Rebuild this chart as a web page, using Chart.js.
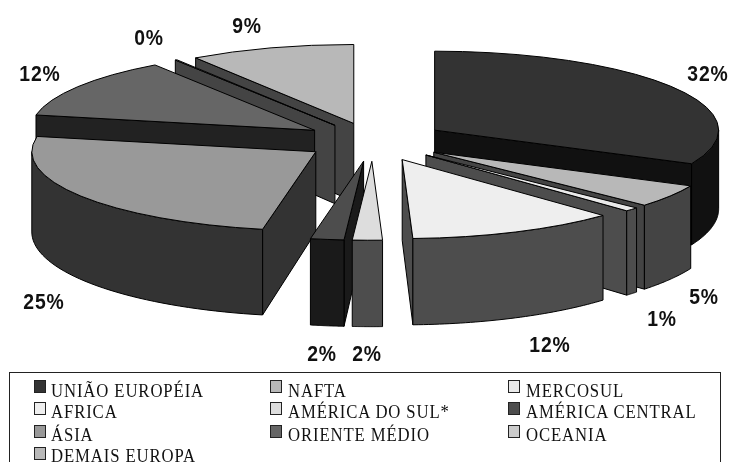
<!DOCTYPE html>
<html>
<head>
<meta charset="utf-8">
<script src="https://cdn.jsdelivr.net/npm/chart.js@4/dist/chart.umd.min.js"></script>
<style>
  html, body { margin: 0; padding: 0; background: #fff; overflow: hidden; }
  #wrap { position: relative; width: 732px; height: 462px; overflow: hidden; }
  #legend { position: absolute; left: 9px; top: 372px; width: 710px; height: 100px; border: 1px solid #222; }
  .item { position: absolute; font: 19px "Liberation Serif", serif; letter-spacing: 1px; color: #111; white-space: nowrap; line-height: 20px; transform: scaleX(0.88); transform-origin: left top; }
  .swatch { position: absolute; width: 10px; height: 11px; border: 1px solid #222; }
</style>
</head>
<body>
<div id="wrap">
  <canvas id="chart" width="732" height="462"></canvas>
  <div id="legend"></div>
</div>
<script>
// Categories and estimated shares (%)
const categories = ['UNIÃO EUROPÉIA', 'NAFTA', 'MERCOSUL', 'AFRICA', 'AMÉRICA DO SUL*', 'AMÉRICA CENTRAL', 'ÁSIA', 'ORIENTE MÉDIO', 'OCEANIA', 'DEMAIS EUROPA'];
const shares = [32, 4.7, 0.8, 11.9, 1.7, 1.9, 25.1, 12.4, 0.1, 9.4];
const topColors = ['#333333', '#b8b8b8', '#eaeaea', '#eeeeee', '#dddddd', '#4d4d4d', '#999999', '#666666', '#cccccc', '#b8b8b8'];
const wallColors = ['#111111', '#444444', '#4d4d4d', '#4d4d4d', '#4d4d4d', '#1a1a1a', '#333333', '#222222', '#444444', '#444444'];

// How far each slice is pulled out of the pie
const explodes = [73, 73, 73, 73, 73, 73, 69, 70, 68, 66];

// Percent label centres, same order as categories
const labelX = [708, 704, 662, 550, 322, 367, 44, 40, 149, 247];
const labelY = [75, 298, 320, 346, 355, 355, 303, 75, 39, 27];

// Legend layout: column by row
const legendSwatchX = [34, 270, 508];
const legendTextX = [51, 288, 526];
const legendSwatchY = [380, 402, 425, 447];
const legendBaseline = [397, 418, 441, 462];

const squash = 0.278;   // flattening of the pie
const cy = 141;         // screen y of the pie centre

function wallHeight(y) {
    return 78 + 0.07 * (y - 120);
}

const pie3d = {
    id: 'pie3d',
    beforeDatasetsDraw(chart) {
        const ctx = chart.ctx;
        const arcs = chart.getDatasetMeta(0).data;
        const order = arcs.map((a, i) => i).sort((p, q) => {
            const mid = (a) => (a.startAngle + a.endAngle) / 2;
            return Math.sin(mid(arcs[p])) - Math.sin(mid(arcs[q]));
        });

        order.forEach((i) => {
            const arc = arcs[i];
            const a0 = arc.startAngle, a1 = arc.endAngle, mid = (a0 + a1) / 2;
            const r = arc.outerRadius;
            const dx = Math.cos(mid) * explodes[i], dy = Math.sin(mid) * explodes[i];
            const ax = arc.x + dx;
            const ay = cy + dy * squash;
            const pt = (a) => [ax + r * Math.cos(a), ay + r * squash * Math.sin(a)];
            const down = (p) => [p[0], p[1] + wallHeight(p[1])];

            ctx.save();
            ctx.strokeStyle = '#000';
            ctx.lineWidth = 1;
            ctx.lineJoin = 'round';
            ctx.fillStyle = wallColors[i];

            const poly = (pts) => {
                ctx.beginPath();
                pts.forEach((p, n) => n ? ctx.lineTo(p[0], p[1]) : ctx.moveTo(p[0], p[1]));
                ctx.closePath();
                ctx.fill();
                ctx.stroke();
            };

            // radial walls that face the viewer
            const apex = [ax, ay];
            if (Math.cos(a0) < 0) poly([apex, pt(a0), down(pt(a0)), down(apex)]);
            if (Math.cos(a1) > 0) poly([apex, pt(a1), down(pt(a1)), down(apex)]);

            // curved outer wall, only the front half
            const from = a0 < 0 && a1 > 0 ? 0 : a0;
            const to = a1 > Math.PI ? Math.max(Math.PI, a0) : a1;
            if (to > from && Math.sin((from + to) / 2) > 0) {
                const upper = [], lower = [];
                for (let n = 0; n <= 40; n++) {
                    const p = pt(from + (to - from) * n / 40);
                    upper.push(p);
                    lower.unshift(down(p));
                }
                poly(upper.concat(lower));
            }

            // top face comes from the library's own arc element
            ctx.save();
            ctx.translate(dx, cy + dy * squash);
            ctx.scale(1, squash);
            ctx.translate(0, -arc.y);
            arc.draw(ctx);
            ctx.restore();

            // outline of the top
            ctx.beginPath();
            ctx.moveTo(ax, ay);
            ctx.ellipse(ax, ay, r, r * squash, 0, a0, a1);
            ctx.closePath();
            ctx.stroke();
            ctx.restore();
        });

        // percent labels
        shares.forEach((v, i) => {
            ctx.save();
            ctx.font = 'bold 22px "Liberation Sans", Arial, sans-serif';
            ctx.letterSpacing = '1px';
            ctx.fillStyle = '#111';
            ctx.textAlign = 'center';
            ctx.textBaseline = 'middle';
            ctx.translate(labelX[i], labelY[i]);
            ctx.scale(0.88, 1);
            ctx.fillText(Math.round(v) + '%', 0, 0);
            ctx.restore();
        });
        return false;
    }
};

new Chart(document.getElementById('chart').getContext('2d'), {
    type: 'pie',
    data: {
        labels: categories,
        datasets: [{
            data: shares,
            backgroundColor: topColors,
            borderWidth: 0,
            radius: 284
        }]
    },
    options: {
        responsive: false,
        animation: false,
        layout: { padding: { left: 14 } },
        plugins: { legend: { display: false }, tooltip: { enabled: false } }
    },
    plugins: [pie3d]
});

// HTML legend, three columns across each row
const wrap = document.getElementById('wrap');
categories.forEach((name, i) => {
    const col = i % 3, row = Math.floor(i / 3);
    const swatch = document.createElement('div');
    swatch.className = 'swatch';
    swatch.style.left = legendSwatchX[col] + 'px';
    swatch.style.top = legendSwatchY[row] + 'px';
    swatch.style.background = topColors[i];
    wrap.appendChild(swatch);

    const item = document.createElement('div');
    item.className = 'item';
    item.style.left = legendTextX[col] + 'px';
    item.style.top = (legendBaseline[row] - 16) + 'px';
    item.textContent = name;
    wrap.appendChild(item);
});
</script>
</body>
</html>
